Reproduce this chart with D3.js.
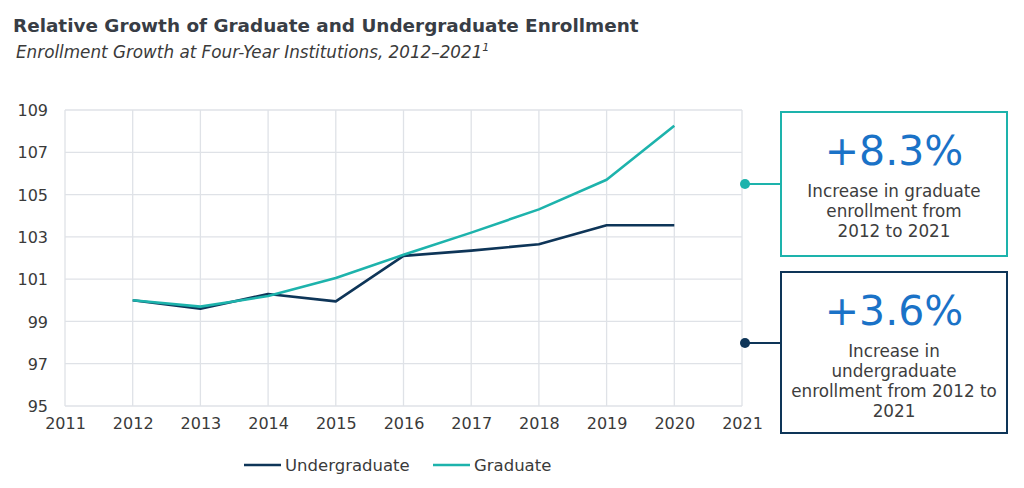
<!DOCTYPE html>
<html lang="en">
<head>
    <meta charset="UTF-8">
    <title>Relative Growth of Graduate and Undergraduate Enrollment</title>
    <script src="https://d3js.org/d3.v7.min.js"></script>
    <style>
        body { margin: 0; background: #fff; }
        text { font-family: "DejaVu Sans", Verdana, sans-serif; }
        .grid line { stroke: #dfe2e7; stroke-width: 1.3; }
        .tick text { fill: #3a3a3a; font-size: 16px; }
    </style>
</head>
<body>
<svg id="chart" width="1024" height="488"></svg>

<script>
    // data
    let years = [2012, 2013, 2014, 2015, 2016, 2017, 2018, 2019, 2020];
    let undergraduate = [100, 99.6, 100.3, 99.95, 102.1, 102.35, 102.65, 103.55, 103.55];
    let graduate = [100, 99.7, 100.2, 101.05, 102.15, 103.2, 104.3, 105.7, 108.25];
    let xTicks = [2011, 2012, 2013, 2014, 2015, 2016, 2017, 2018, 2019, 2020, 2021];
    let yTicks = [95, 97, 99, 101, 103, 105, 107, 109];

    let seriesNames = ["Undergraduate", "Graduate"];
    let colors = {Undergraduate: "#0e3558", Graduate: "#1db3ac"};

    let callouts = [
        {name: "Graduate", big: "+8.3%", lines: ["Increase in graduate", "enrollment from", "2012 to 2021"]},
        {name: "Undergraduate", big: "+3.6%", lines: ["Increase in", "undergraduate", "enrollment from 2012 to", "2021"]}
    ];

    let svg = d3.select("#chart");

    let plot = {left: 65, right: 742, top: 110, bottom: 406};

    let x = d3.scaleLinear().domain([2011, 2021]).range([plot.left, plot.right]);
    let y = d3.scaleLinear().domain([95, 109]).range([plot.bottom, plot.top]);

    // titles
    svg.append("text")
        .attr("x", 13).attr("y", 32)
        .attr("font-weight", "bold").attr("font-size", 18.4)
        .attr("fill", "#383d45")
        .text("Relative Growth of Graduate and Undergraduate Enrollment");

    let sub = svg.append("text")
        .attr("x", 16).attr("y", 58)
        .attr("font-style", "italic").attr("font-size", 16.8)
        .attr("fill", "#3a3a3a")
        .text("Enrollment Growth at Four-Year Institutions, 2012\u20132021");
    sub.append("tspan").attr("font-size", 11).attr("dy", -7).text("1");

    // grid
    svg.append("g").attr("class", "grid")
        .selectAll("line.v").data(xTicks).join("line")
        .attr("x1", d => x(d)).attr("x2", d => x(d))
        .attr("y1", plot.top).attr("y2", plot.bottom);

    svg.append("g").attr("class", "grid")
        .selectAll("line.h").data(yTicks).join("line")
        .attr("x1", plot.left).attr("x2", plot.right)
        .attr("y1", d => y(d)).attr("y2", d => y(d));

    // axes (labels only)
    let xAxis = svg.append("g")
        .attr("transform", `translate(0,${plot.bottom})`)
        .call(d3.axisBottom(x).tickValues(xTicks).tickFormat(d3.format("d")).tickSize(0).tickPadding(12));
    xAxis.select(".domain").remove();

    let yAxis = svg.append("g")
        .attr("transform", `translate(${plot.left},0)`)
        .call(d3.axisLeft(y).tickValues(yTicks).tickSize(0).tickPadding(17));
    yAxis.select(".domain").remove();
    yAxis.selectAll("text").attr("dy", "0.35em");

    // lines
    let line = d3.line()
        .x((d, i) => x(years[i]))
        .y(d => y(d));

    let seriesData = {Undergraduate: undergraduate, Graduate: graduate};

    svg.append("g").selectAll("path").data(seriesNames).join("path")
        .attr("d", d => line(seriesData[d]))
        .attr("fill", "none")
        .attr("stroke", d => colors[d])
        .attr("stroke-width", 2.6)
        .attr("stroke-linejoin", "round");

    // callout boxes
    let boxes = [
        {top: 112, bottom: 256, dotY: 184},
        {top: 272, bottom: 433, dotY: 343}
    ];
    let boxLeft = 781, boxRight = 1007, dotX = 745;

    callouts.forEach(function (c, i) {
        let b = boxes[i];
        let col = colors[c.name];
        let g = svg.append("g");
        g.append("rect")
            .attr("x", boxLeft).attr("y", b.top)
            .attr("width", boxRight - boxLeft).attr("height", b.bottom - b.top)
            .attr("fill", "#fff").attr("stroke", col).attr("stroke-width", 2);
        g.append("line")
            .attr("x1", dotX).attr("x2", boxLeft)
            .attr("y1", b.dotY).attr("y2", b.dotY)
            .attr("stroke", col).attr("stroke-width", 2);
        g.append("circle")
            .attr("cx", dotX).attr("cy", b.dotY).attr("r", 5)
            .attr("fill", col);

        let cx = (boxLeft + boxRight) / 2;
        g.append("text")
            .attr("x", cx).attr("y", b.top + 53)
            .attr("text-anchor", "middle")
            .attr("font-family", "'Liberation Sans', Arial, sans-serif")
            .attr("font-size", 41)
            .attr("fill", "#1a72c7")
            .text(c.big);
        g.selectAll("text.desc").data(c.lines).join("text")
            .attr("class", "desc")
            .attr("x", cx).attr("y", (d, j) => b.top + 85 + j * 20)
            .attr("text-anchor", "middle")
            .attr("font-size", 16.8)
            .attr("fill", "#3d3d3d")
            .text(d => d);
    });

    // legend
    let legendX = {Undergraduate: 244, Graduate: 433};
    let legend = svg.append("g").selectAll("g").data(seriesNames).join("g")
        .attr("transform", d => `translate(${legendX[d]},465)`);
    legend.append("line")
        .attr("x1", 0).attr("x2", 37)
        .attr("stroke", d => colors[d]).attr("stroke-width", 2.6);
    legend.append("text")
        .attr("x", 41).attr("y", 6)
        .attr("font-size", 16.5)
        .attr("fill", "#3a3a3a")
        .text(d => d);
</script>
</body>
</html>
